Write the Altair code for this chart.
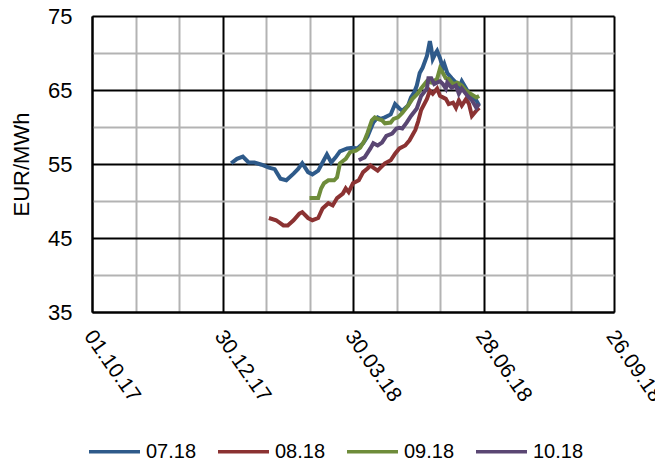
import altair as alt
import pandas as pd

START = "2017-10-01"

series_names = ["07.18", "08.18", "09.18", "10.18"]
series_colors = ["#2E5A8A", "#8B3232", "#6E8C3A", "#5A4673"]

# days after 01.10.17 and EUR/MWh values
blue_days = [96, 100, 104, 108, 112, 117, 122, 126, 130, 134, 139, 142, 145, 149, 152,
             156, 159, 162, 165, 168, 171, 176, 180, 183, 187, 190, 194, 197, 199, 202,
             206, 209, 212, 214, 218, 220, 222, 224, 226, 228, 231, 233, 234, 235, 237,
             238, 240, 242, 243, 245, 248, 250, 252, 253, 255, 258, 260, 262, 265, 267]
blue_vals = [55.1, 55.7, 56.0, 55.2, 55.2, 54.9, 54.5, 54.3, 53.0, 52.8, 53.7, 54.3, 55.1, 53.9, 53.6,
             54.1, 55.2, 56.3, 55.2, 55.9, 56.7, 57.1, 57.2, 57.1, 57.8, 58.7, 60.6, 61.3, 61.1, 61.3,
             61.7, 63.1, 62.5, 62.2, 62.9, 64.0, 64.6, 65.6, 67.3, 68.0, 69.6, 71.6, 70.6, 69.2, 70.0,
             70.3, 69.3, 68.0, 68.5, 67.3, 66.6, 66.2, 65.8, 65.3, 66.2, 65.2, 64.5, 64.0, 63.6, 62.9]

red_days = [122, 127, 132, 135, 139, 143, 145, 149, 152, 156, 159, 163, 166, 169, 173, 175, 177,
            180, 184, 187, 190, 192, 194, 197, 199, 202, 206, 209, 212, 216, 219, 223, 225, 227,
            231, 233, 235, 238, 240, 242, 244, 246, 249, 251, 253, 255, 258, 260, 262, 265, 267]
red_vals = [47.7, 47.4, 46.7, 46.7, 47.4, 48.3, 48.5, 47.7, 47.4, 47.7, 49.0, 49.7, 49.4, 50.4, 51.0, 51.7, 51.2,
            52.4, 52.8, 53.9, 54.4, 54.8, 54.5, 54.1, 54.5, 55.1, 55.5, 56.4, 57.1, 57.5, 58.2, 59.6, 60.8, 62.3,
            63.8, 64.9, 64.5, 65.2, 64.2, 64.0, 63.8, 63.1, 63.3, 62.6, 63.6, 62.9, 63.8, 63.1, 61.5, 62.2, 62.6]

green_days = [150, 156, 158, 160, 163, 167, 169, 171, 175, 178, 182, 185, 188, 190, 193, 195, 197,
              200, 202, 206, 208, 211, 214, 218, 221, 225, 227, 231, 234, 238, 240, 242, 244, 246,
              249, 252, 255, 258, 261, 265, 267]
green_vals = [50.4, 50.4, 51.7, 52.4, 52.8, 52.8, 53.2, 55.1, 55.7, 56.6, 56.8, 57.2, 58.2, 59.2, 60.9, 61.3, 61.1,
              60.9, 60.5, 60.6, 61.1, 61.3, 61.9, 62.9, 63.8, 64.6, 65.2, 66.2, 66.0, 66.5, 67.9, 67.3, 66.6, 66.5,
              65.8, 66.0, 65.6, 64.9, 64.5, 64.0, 64.2]

purple_days = [184, 186, 188, 192, 194, 197, 200, 203, 207, 210, 212, 214, 217, 220, 224, 227,
               231, 232, 234, 236, 240, 242, 244, 245, 248, 251, 253, 255, 259, 262, 265, 267]
purple_vals = [55.5, 55.7, 55.9, 57.1, 57.8, 57.5, 57.9, 58.8, 59.1, 59.8, 59.9, 59.8, 60.6, 61.5, 62.5, 64.2,
               65.2, 66.6, 66.6, 65.8, 66.2, 65.8, 65.2, 66.0, 65.3, 65.6, 64.5, 65.2, 64.2, 63.6, 62.6, 63.1]

y_ticks = [35, 40, 45, 50, 55, 60, 65, 70, 75]
x_ticks = ["2017-10-01", "2017-10-31", "2017-11-30", "2017-12-30", "2018-01-29", "2018-02-28",
           "2018-03-30", "2018-04-29", "2018-05-29", "2018-06-28", "2018-07-28", "2018-08-27",
           "2018-09-26"]


def frame(name, days, vals):
    dates = (pd.Timestamp(START) + pd.to_timedelta(days, unit="D")).strftime("%Y-%m-%d")
    return pd.DataFrame({"date": list(dates), "value": vals, "series": name})


df = pd.concat([
    frame(series_names[0], blue_days, blue_vals),
    frame(series_names[1], red_days, red_vals),
    frame(series_names[2], green_days, green_vals),
    frame(series_names[3], purple_days, purple_vals),
], ignore_index=True)

FONT = "Liberation Sans"
major_x = "round((datum.value - utc(2017, 9, 1)) / 86400000) % 90 === 0"
major_y = "(datum.value - 35) % 10 === 0"


def utc_dt(s):
    y, m, d = (int(p) for p in s.split("-"))
    return alt.DateTime(year=y, month=m, date=d, utc=True)


x_enc = alt.X(
    "date:T",
    scale=alt.Scale(type="utc", domain=[utc_dt(x_ticks[0]), utc_dt(x_ticks[-1])]),
    axis=alt.Axis(
        values=[utc_dt(s) for s in x_ticks],
        labelExpr=f"({major_x}) ? utcFormat(datum.value, '%d.%m.%y') : ''",
        labelAngle=55,
        labelAlign="left",
        labelBaseline="top",
        labelPadding=14,
        labelOffset=5,
        labelFontSize=21,
        labelFont=FONT,
        labelColor="black",
        labelOverlap=False,
        labelFlush=False,
        ticks=False,
        grid=True,
        gridColor={"condition": {"test": major_x, "value": "black"}, "value": "#b3b3b3"},
        gridWidth=2,
        domainColor="black",
        domainWidth=2,
        title=None,
    ),
)

y_enc = alt.Y(
    "value:Q",
    scale=alt.Scale(domain=[35, 75], nice=False, zero=False),
    axis=alt.Axis(
        values=y_ticks,
        labelExpr=f"({major_y}) ? datum.label : ''",
        labelFontSize=22,
        labelFont=FONT,
        labelColor="black",
        labelPadding=20,
        ticks=False,
        grid=True,
        gridColor={"condition": {"test": major_y, "value": "black"}, "value": "#b3b3b3"},
        gridWidth=2,
        domainColor="black",
        domainWidth=2,
        title="EUR/MWh",
        titleFont=FONT,
        titleFontSize=22,
        titleFontWeight="normal",
        titleColor="black",
        titlePadding=14,
    ),
)

chart = alt.Chart(df).mark_line(strokeWidth=4, interpolate="linear").encode(
    x=x_enc,
    y=y_enc,
    color=alt.Color(
        "series:N",
        scale=alt.Scale(domain=series_names, range=series_colors),
        legend=alt.Legend(
            title=None,
            orient="none",
            legendX=-5,
            legendY=408,
            direction="horizontal",
            symbolType="stroke",
            symbolSize=2600,
            symbolStrokeWidth=3.5,
            labelFontSize=20,
            labelFont=FONT,
            labelColor="black",
            labelOffset=4,
            columnPadding=14,
        ),
    ),
    detail="series:N",
).properties(
    width=522,
    height=296,
    autosize=alt.AutoSizeParams(type="none"),
    padding={"left": 84, "top": 8, "right": 41, "bottom": 150},
).configure_view(stroke=None).configure(background="white")

chart.save("out.html", embed_options={"renderer": "svg", "actions": False})
